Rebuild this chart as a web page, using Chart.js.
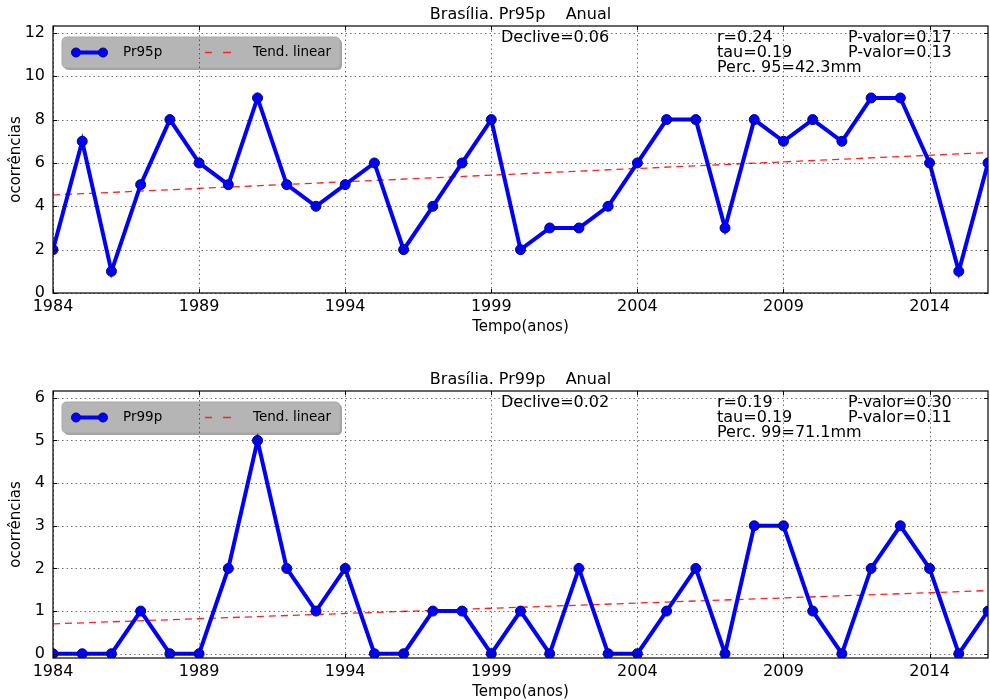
<!DOCTYPE html>
<html>
<head>
<meta charset="utf-8">
<script src="https://cdn.jsdelivr.net/npm/chart.js@4/dist/chart.umd.min.js"></script>
<style>
  html, body { margin: 0; padding: 0; background: #fff; }
  #wrap { position: relative; width: 990px; height: 700px; }
  .panel { position: absolute; left: 0; width: 990px; }
  #c1 { top: 0; height: 335px; }
  #c2 { top: 335px; height: 365px; }
</style>
</head>
<body>
<div id="wrap">
  <div class="panel" id="c1"><canvas id="chart95"></canvas></div>
  <div class="panel" id="c2"><canvas id="chart99"></canvas></div>
</div>
<script>
// Annual counts of days above the 95th / 99th precipitation percentile, Brasília
const years = [1984, 1985, 1986, 1987, 1988, 1989, 1990, 1991, 1992, 1993, 1994,
               1995, 1996, 1997, 1998, 1999, 2000, 2001, 2002, 2003, 2004, 2005,
               2006, 2007, 2008, 2009, 2010, 2011, 2012, 2013, 2014, 2015, 2016];
const pr95p = [2, 7, 1, 5, 8, 6, 5, 9, 5, 4, 5, 6, 2, 4, 6, 8, 2, 3, 3, 4, 6, 8,
               8, 3, 8, 7, 8, 7, 9, 9, 6, 1, 6];
const pr99p = [0, 0, 0, 1, 0, 0, 2, 5, 2, 1, 2, 0, 0, 1, 1, 0, 1, 0, 2, 0, 0, 1,
               2, 0, 3, 3, 1, 0, 2, 3, 2, 0, 1];

// Linear trend end points (first and last year)
const trendYears = [1984, 2016];
const trend95 = [4.52, 6.48];
const trend99 = [0.70, 1.48];

// Tick labels
const xTicks = [1984, 1989, 1994, 1999, 2004, 2009, 2014];
const yTicks95 = [0, 2, 4, 6, 8, 10, 12];
const yTicks99 = [0, 1, 2, 3, 4, 5, 6];

// Statistics text
const stats95 = { title: 'Brasília. Pr95p    Anual', label: 'Pr95p', declive: 'Declive=0.06',
  r: 'r=0.24', tau: 'tau=0.19', perc: 'Perc. 95=42.3mm', p1: 'P-valor=0.17', p2: 'P-valor=0.13' };
const stats99 = { title: 'Brasília. Pr99p    Anual', label: 'Pr99p', declive: 'Declive=0.02',
  r: 'r=0.19', tau: 'tau=0.19', perc: 'Perc. 99=71.1mm', p1: 'P-valor=0.30', p2: 'P-valor=0.11' };

const FONT = '"DejaVu Sans", sans-serif';
const BLUE = '#0000ff';
const RED = '#ff2020';

function roundRect(ctx, x, y, w, h, r) {
  ctx.beginPath();
  ctx.moveTo(x + r, y);
  ctx.lineTo(x + w - r, y);
  ctx.quadraticCurveTo(x + w, y, x + w, y + r);
  ctx.lineTo(x + w, y + h - r);
  ctx.quadraticCurveTo(x + w, y + h, x + w - r, y + h);
  ctx.lineTo(x + r, y + h);
  ctx.quadraticCurveTo(x, y + h, x, y + h - r);
  ctx.lineTo(x, y + r);
  ctx.quadraticCurveTo(x, y, x + r, y);
  ctx.closePath();
}

// Matplotlib-like decorations: dotted grid on top, frame, inward ticks, legend and text
const decor = {
  id: 'decor',
  afterDatasetsDraw(chart, args, opts) {
    const ctx = chart.ctx;
    const a = chart.chartArea;
    const xs = chart.scales.x, ys = chart.scales.y;
    const st = opts.stats;

    ctx.save();
    // legend box
    const lx = a.left + 9, ly = a.top + 11, lw = 278, lh = 31;
    ctx.fillStyle = 'rgba(90,90,90,0.55)';
    roundRect(ctx, lx + 2, ly + 2, lw, lh, 5);
    ctx.fill();
    ctx.fillStyle = '#b5b5b5';
    roundRect(ctx, lx, ly, lw, lh, 5);
    ctx.fill();
    ctx.strokeStyle = '#a8a8a8';
    ctx.lineWidth = 1;
    ctx.stroke();
    const my = ly + lh / 2;
    ctx.strokeStyle = BLUE;
    ctx.lineWidth = 4;
    ctx.beginPath();
    ctx.moveTo(lx + 14, my); ctx.lineTo(lx + 41, my);
    ctx.stroke();
    ctx.fillStyle = BLUE;
    ctx.strokeStyle = '#00008b';
    ctx.lineWidth = 1;
    [lx + 14, lx + 41].forEach(px => {
      ctx.beginPath(); ctx.arc(px, my, 4.5, 0, Math.PI * 2); ctx.fill(); ctx.stroke();
    });
    ctx.strokeStyle = RED;
    ctx.lineWidth = 1.5;
    ctx.beginPath();
    ctx.moveTo(lx + 143, my); ctx.lineTo(lx + 150, my);
    ctx.moveTo(lx + 161, my); ctx.lineTo(lx + 169, my);
    ctx.stroke();
    ctx.fillStyle = '#000';
    ctx.font = '13.5px ' + FONT;
    ctx.textBaseline = 'middle';
    ctx.textAlign = 'left';
    ctx.fillText(st.label, lx + 61, my);
    ctx.fillText('Tend. linear', lx + 191, my);

    // dotted grid
    ctx.strokeStyle = 'rgba(0,0,0,0.55)';
    ctx.lineWidth = 1;
    ctx.setLineDash([1.5, 3]);
    opts.xTicks.forEach(v => {
      const px = Math.round(xs.getPixelForValue(v)) + 0.5;
      ctx.beginPath(); ctx.moveTo(px, a.top); ctx.lineTo(px, a.bottom); ctx.stroke();
    });
    opts.yTicks.forEach(v => {
      const py = Math.round(ys.getPixelForValue(v)) + 0.5;
      ctx.beginPath(); ctx.moveTo(a.left, py); ctx.lineTo(a.right, py); ctx.stroke();
    });
    ctx.setLineDash([]);

    // frame
    ctx.strokeStyle = '#000';
    ctx.lineWidth = 1.2;
    ctx.strokeRect(a.left, a.top, a.right - a.left, a.bottom - a.top);

    // inward ticks
    ctx.lineWidth = 1;
    opts.xTicks.forEach(v => {
      const px = Math.round(xs.getPixelForValue(v)) + 0.5;
      ctx.beginPath();
      ctx.moveTo(px, a.bottom); ctx.lineTo(px, a.bottom - 4);
      ctx.moveTo(px, a.top); ctx.lineTo(px, a.top + 4);
      ctx.stroke();
    });
    opts.yTicks.forEach(v => {
      const py = Math.round(ys.getPixelForValue(v)) + 0.5;
      ctx.beginPath();
      ctx.moveTo(a.left, py); ctx.lineTo(a.left + 4, py);
      ctx.moveTo(a.right, py); ctx.lineTo(a.right - 4, py);
      ctx.stroke();
    });

    // title and axis titles
    ctx.fillStyle = '#000';
    ctx.font = '16px ' + FONT;
    ctx.textAlign = 'center';
    ctx.textBaseline = 'alphabetic';
    ctx.fillText(st.title, (a.left + a.right) / 2, a.top - 7);
    ctx.font = '15px ' + FONT;
    ctx.fillText('Tempo(anos)', (a.left + a.right) / 2, a.bottom + 38);
    ctx.save();
    ctx.translate(16, (a.top + a.bottom) / 2);
    ctx.rotate(-Math.PI / 2);
    ctx.textBaseline = 'middle';
    ctx.fillText('ocorrências', 0, 0);
    ctx.restore();

    // statistics
    ctx.font = '16px ' + FONT;
    ctx.textAlign = 'left';
    ctx.textBaseline = 'top';
    const t = a.top + 4;
    ctx.fillText(st.declive, a.left + 448, t);
    ctx.fillText(st.r, a.left + 664, t);
    ctx.fillText(st.tau, a.left + 664, t + 15);
    ctx.fillText(st.perc, a.left + 664, t + 30);
    ctx.fillText(st.p1, a.left + 795, t);
    ctx.fillText(st.p2, a.left + 795, t + 15);
    ctx.restore();
  }
};

function buildChart(canvasId, values, trend, yTicks, yMin, yMax, topPad, stats) {
  return new Chart(document.getElementById(canvasId), {
    type: 'line',
    data: {
      datasets: [
        {
          label: stats.label,
          data: years.map((y, i) => ({ x: y, y: values[i] })),
          borderColor: BLUE,
          backgroundColor: BLUE,
          borderWidth: 4,
          pointRadius: 5,
          pointBorderColor: '#00008b',
          pointBorderWidth: 1,
          pointBackgroundColor: BLUE,
          tension: 0,
          clip: 0,
          order: 1
        },
        {
          label: 'Tend. linear',
          data: trendYears.map((y, i) => ({ x: y, y: trend[i] })),
          borderColor: RED,
          borderWidth: 1.3,
          borderDash: [7, 5],
          pointRadius: 0,
          clip: 0,
          order: 2
        }
      ]
    },
    options: {
      responsive: true,
      maintainAspectRatio: false,
      animation: false,
      events: [],
      layout: { autoPadding: false, padding: { top: topPad, right: 2, left: 0, bottom: 0 } },
      plugins: {
        legend: { display: false },
        title: { display: false },
        tooltip: { enabled: false },
        decor: { stats: stats, xTicks: xTicks, yTicks: yTicks }
      },
      scales: {
        x: {
          type: 'linear',
          min: 1984, max: 2016,
          afterBuildTicks: s => { s.ticks = xTicks.map(v => ({ value: v })); },
          afterFit: s => { s.height = 42; s.paddingLeft = 0; s.paddingRight = 0; },
          grid: { display: false, drawTicks: false },
          border: { display: false },
          ticks: { color: '#000', font: { family: FONT, size: 16 }, padding: 4,
                   maxRotation: 0, autoSkip: false, callback: v => String(v) }
        },
        y: {
          type: 'linear',
          min: yMin, max: yMax,
          afterBuildTicks: s => { s.ticks = yTicks.map(v => ({ value: v })); },
          afterFit: s => { s.width = 53; s.paddingTop = 0; s.paddingBottom = 0; },
          grid: { display: false, drawTicks: false },
          border: { display: false },
          ticks: { color: '#000', font: { family: FONT, size: 16 }, padding: 8,
                   autoSkip: false, callback: v => String(v) }
        }
      }
    },
    plugins: [decor]
  });
}

buildChart('chart95', pr95p, trend95, yTicks95, 0, 12.32, 26, stats95);
buildChart('chart99', pr99p, trend99, yTicks99, -0.1, 6.16, 56, stats99);
</script>
</body>
</html>
